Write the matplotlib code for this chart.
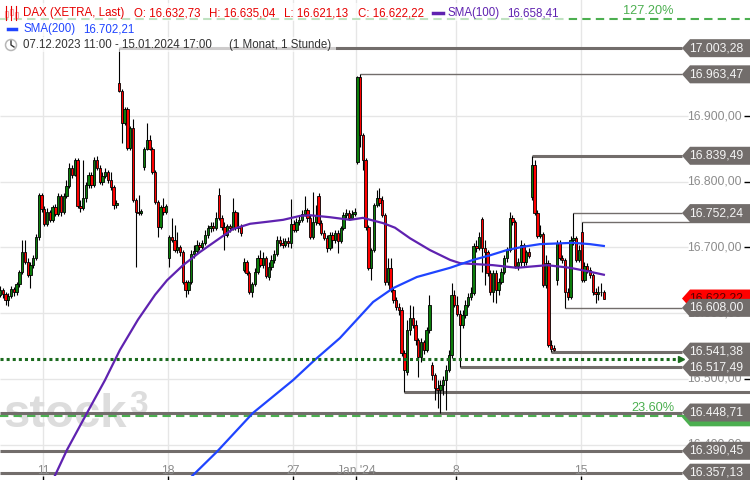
import numpy as np
import matplotlib.pyplot as plt
from matplotlib.patches import Polygon, Rectangle, Ellipse
from matplotlib.lines import Line2D
from matplotlib.transforms import blended_transform_factory

plt.rcParams['font.family'] = ['Liberation Sans', 'DejaVu Sans']

W, H = 750, 480
PX = 2.77                      # candle spacing in pixels
Y_TOP, Y_BOT = 17076.6, 16352.1

# DAX (XETRA) hourly candles, 07.12.2023 11:00 .. 15.01.2024 17:00
opens = [
    16628, 16635, 16629, 16620, 16626, 16637, 16632,
    16644, 16663, 16693, 16678, 16658, 16673, 16684, 16716, 16780,
    16758, 16736, 16754, 16742, 16761, 16751, 16778, 16754, 16778,
    16794, 16821, 16810, 16833, 16763, 16760, 16775, 16795, 16810,
    16795, 16833, 16821, 16800, 16809, 16815, 16803, 16792, 16765,
    16950, 16938, 16889, 16911, 16851, 16882, 16772, 16754, 16752,
    16822, 16850, 16864, 16850, 16815, 16769, 16731, 16761, 16754,
    16684, 16716, 16711, 16696, 16701, 16693, 16647, 16635, 16647,
    16690, 16695, 16704, 16701, 16707, 16719, 16730, 16733, 16730,
    16780, 16745, 16731, 16719, 16733, 16730, 16754, 16730, 16733,
    16666, 16678, 16661, 16632, 16644, 16663, 16684, 16673, 16684,
    16655, 16670, 16681, 16690, 16711, 16707, 16704, 16710, 16707,
    16736, 16727, 16739, 16742, 16751, 16757, 16745, 16716, 16739,
    16778, 16737, 16722, 16714, 16699, 16719, 16711, 16722, 16710,
    16730, 16749, 16752, 16745, 16751,
    16830, 16959, 16871, 16833, 16731, 16669, 16696, 16765, 16775,
    16772, 16749, 16647, 16669, 16635, 16620, 16609, 16605, 16539,
    16510, 16574, 16593, 16582, 16559, 16533, 16556, 16544, 16574,
    16521, 16506, 16486, 16483, 16491, 16498, 16513, 16536, 16628,
    16612, 16599, 16582, 16597, 16612, 16625, 16631, 16702, 16699,
    16743, 16699, 16693, 16661, 16632, 16661, 16635, 16647, 16663,
    16684, 16696, 16745, 16739, 16672, 16678, 16704, 16678, 16693,
    16777, 16825, 16752, 16717, 16720, 16643, 16676, 16551, 16547,
    16650, 16706, 16684, 16681, 16632, 16625, 16711, 16714, 16681,
    16723, 16650, 16672, 16666, 16658, 16632, 16629, 16632, 16632.73,
]
highs = [
    16641, 16638, 16632, 16631, 16641, 16640, 16647,
    16666, 16711, 16711, 16684, 16678, 16688, 16720, 16783, 16783,
    16763, 16760, 16757, 16765, 16766, 16783, 16781, 16783, 16803,
    16829, 16825, 16836, 16836, 16772, 16833, 16800, 16815, 16815,
    16838, 16839, 16825, 16815, 16821, 16818, 16815, 16795, 16772,
    17003.28, 16941, 16914, 16914, 16885, 16896, 16775, 16780, 16758,
    16853, 16889, 16871, 16853, 16818, 16772, 16765, 16775, 16766,
    16719, 16745, 16734, 16723, 16704, 16696, 16650, 16650, 16696,
    16704, 16711, 16708, 16711, 16727, 16734, 16739, 16739, 16754,
    16790, 16749, 16739, 16736, 16736, 16775, 16757, 16754, 16736,
    16684, 16681, 16664, 16647, 16669, 16688, 16696, 16693, 16687,
    16678, 16688, 16696, 16717, 16717, 16714, 16714, 16716, 16774,
    16742, 16745, 16748, 16757, 16778, 16760, 16749, 16784, 16765,
    16783, 16742, 16727, 16719, 16723, 16723, 16727, 16727, 16733,
    16754, 16758, 16757, 16757, 16760,
    16961, 16963.47, 16874, 16836, 16734, 16699, 16768, 16787, 16790,
    16778, 16752, 16684, 16684, 16638, 16625, 16615, 16609, 16544,
    16590, 16612, 16611, 16590, 16562, 16562, 16559, 16579, 16628,
    16526, 16509, 16498, 16498, 16504, 16521, 16544, 16646, 16635,
    16626, 16605, 16605, 16620, 16631, 16640, 16707, 16711, 16723,
    16746, 16711, 16696, 16666, 16666, 16666, 16653, 16669, 16688,
    16701, 16754, 16749, 16742, 16684, 16711, 16707, 16696, 16699,
    16839.49, 16833, 16757, 16734, 16723, 16688, 16681, 16559, 16551,
    16711, 16711, 16688, 16684, 16638, 16717, 16752.24, 16717, 16704,
    16739, 16678, 16676, 16670, 16661, 16638, 16641, 16646, 16635.04,
]
lows = [
    16625, 16623, 16612, 16611, 16623, 16626, 16628,
    16640, 16660, 16675, 16655, 16638, 16669, 16681, 16711, 16754,
    16733, 16733, 16739, 16739, 16748, 16748, 16748, 16751, 16775,
    16790, 16806, 16808, 16760, 16754, 16757, 16769, 16790, 16790,
    16792, 16818, 16797, 16795, 16806, 16798, 16787, 16758, 16760,
    16937, 16859, 16886, 16848, 16848, 16769, 16670, 16749, 16749,
    16818, 16848, 16848, 16812, 16766, 16716, 16728, 16749, 16751,
    16670, 16708, 16693, 16692, 16687, 16644, 16625, 16629, 16644,
    16684, 16690, 16696, 16698, 16704, 16714, 16723, 16725, 16727,
    16742, 16727, 16696, 16716, 16723, 16727, 16727, 16723, 16717,
    16663, 16658, 16629, 16625, 16641, 16660, 16670, 16669, 16653,
    16650, 16666, 16676, 16687, 16702, 16699, 16701, 16701, 16699,
    16723, 16723, 16734, 16739, 16748, 16739, 16713, 16713, 16734,
    16734, 16719, 16711, 16693, 16696, 16699, 16707, 16692, 16707,
    16727, 16745, 16742, 16743, 16748,
    16827, 16853, 16818, 16727, 16666, 16650, 16693, 16761, 16763,
    16746, 16643, 16643, 16632, 16615, 16605, 16597, 16535, 16480,
    16506, 16567, 16578, 16551, 16503, 16526, 16538, 16541, 16570,
    16498, 16468, 16456, 16448.71, 16475, 16453, 16510, 16532, 16609,
    16596, 16517.49, 16578, 16593, 16609, 16620, 16628, 16693, 16696,
    16663, 16643, 16657, 16628, 16617, 16615, 16628, 16644, 16660,
    16678, 16693, 16734, 16669, 16666, 16672, 16672, 16673, 16684,
    16772, 16749, 16714, 16714, 16640, 16638, 16548, 16541.38, 16542,
    16643, 16681, 16676, 16608.00, 16620, 16621, 16704, 16678, 16678,
    16647, 16647, 16661, 16653, 16628, 16615, 16620, 16626, 16621.13,
]
closes = [
    16635, 16629, 16620, 16626, 16637, 16632, 16644,
    16663, 16693, 16678, 16658, 16673, 16684, 16716, 16780, 16758,
    16736, 16754, 16742, 16761, 16751, 16778, 16754, 16778, 16794,
    16821, 16810, 16833, 16763, 16760, 16775, 16795, 16810, 16795,
    16833, 16821, 16800, 16809, 16815, 16803, 16792, 16765, 16768,
    16938, 16889, 16911, 16851, 16882, 16772, 16754, 16752, 16755,
    16850, 16864, 16850, 16815, 16769, 16731, 16761, 16754, 16763,
    16716, 16711, 16696, 16701, 16693, 16647, 16635, 16647, 16690,
    16695, 16704, 16701, 16707, 16719, 16730, 16733, 16730, 16745,
    16745, 16731, 16719, 16733, 16730, 16754, 16730, 16733, 16722,
    16678, 16661, 16632, 16644, 16663, 16684, 16673, 16684, 16657,
    16670, 16681, 16690, 16711, 16707, 16704, 16710, 16707, 16736,
    16727, 16739, 16742, 16751, 16757, 16745, 16716, 16739, 16749,
    16737, 16722, 16714, 16699, 16719, 16711, 16722, 16710, 16730,
    16749, 16752, 16745, 16751, 16754,
    16959, 16871, 16833, 16731, 16669, 16696, 16765, 16775, 16768,
    16749, 16647, 16669, 16635, 16620, 16609, 16605, 16539, 16513,
    16574, 16593, 16582, 16559, 16533, 16556, 16544, 16574, 16612,
    16506, 16486, 16483, 16491, 16498, 16513, 16536, 16628, 16612,
    16599, 16582, 16597, 16612, 16625, 16631, 16702, 16699, 16716,
    16699, 16693, 16661, 16632, 16661, 16635, 16647, 16663, 16684,
    16696, 16745, 16739, 16672, 16678, 16704, 16678, 16693, 16687,
    16825, 16752, 16717, 16720, 16643, 16676, 16551, 16545, 16544,
    16706, 16684, 16681, 16632, 16625, 16711, 16714, 16681, 16696,
    16650, 16672, 16666, 16658, 16632, 16629, 16632, 16632.73, 16622.22,
]

# moving averages, read at candle positions
sma100_idx = [17.7, 19.1, 24.2, 31.4, 37.9, 43.3, 49.8, 56.0, 60.3, 66.1, 72.2,
              78.3, 84.1, 90.3, 96.4, 102.2, 108.3, 111.9, 119.1, 126.4, 131.0,
              138.3, 142.6, 148.0, 155.2, 162.5, 166.1, 178.0, 186.6, 197.5,
              205.8, 213.0, 218]
sma100_val = [16331, 16346, 16392, 16448, 16498, 16544, 16590, 16628, 16650, 16673,
              16693, 16711, 16728, 16736, 16739, 16742, 16748, 16749, 16746, 16742,
              16745, 16737, 16730, 16714, 16696, 16681, 16676, 16673, 16669, 16673,
              16669, 16663, 16658.41]
sma200_idx = [66.8, 67.9, 78.3, 91.3, 105.8, 113.7, 122.7, 134.7, 141.9, 150.5, 162.5,
              170.8, 176.9, 183.0, 188.8, 194.9, 206.9, 213.0, 218]
sma200_val = [16331, 16346, 16389, 16448, 16498, 16529, 16562, 16617, 16638, 16655,
              16669, 16681, 16688, 16696, 16701, 16705, 16707, 16705, 16702.21]

# support / resistance levels (value, candle where it starts)
level_values = [17003.28, 16963.47, 16839.49, 16752.24, 16608.00,
                16541.38, 16517.49, 16448.71, 16390.45, 16357.13]
level_from = [43, 130, 192, 207, 204, 199, 166, 0, 0, 0]
extra_values = [16738.70, 16479.90]
extra_from = [210, 146]
fib_values = [17047.6, 16443.4]
fib_labels = ["127.20%", "23.60%"]
dotted_value = 16530.2
last_price = 16622.22

grid_values = [16400, 16500, 16600, 16700, 16800, 16900]
day_idx = [16, 61, 106, 129, 165, 210]
day_labels = ["11", "18", "27", "Jan '24", "8", "15"]

thin_levels = {16963.47, 16752.24, 16608.00, 16738.70}

GREY = '#726d6b'
LBL = '#8c8c8c'
FS = 8.7
HFS = 8.3


def de(v):
    s = f"{v:,.2f}"
    return s.replace(',', 'X').replace('.', ',').replace('X', '.')


fig = plt.figure(figsize=(W / 100, H / 100), dpi=100)
ax = fig.add_axes([0, 4 / H, 1, 476 / H])
ax.set_xlim(0, W / PX)
ax.set_ylim(Y_BOT, Y_TOP)
for s in ax.spines.values():
    s.set_visible(False)
trans = blended_transform_factory(ax.transAxes, ax.transData)
tip = 682 / PX            # where tags start, in candle units
unit_px = (Y_TOP - Y_BOT) / 476

# grid
ax.hlines(grid_values, 0, 688 / PX, color='#e6e6e6', lw=1, zorder=1)
for i in day_idx:
    ax.axvline(i - 0.3, color='#e6e6e6', lw=1, zorder=1)

ax.set_xticks([i - 0.3 for i in day_idx])
ax.set_xticklabels([])
ax.tick_params(axis='x', length=3, width=1, color='black', direction='out')
ax.yaxis.tick_right()
ax.set_yticks(grid_values)
ax.set_yticklabels([])
ax.tick_params(axis='y', length=4, width=1, color='black', direction='in')

for i, lab in zip(day_idx, day_labels):
    ax.text(i - 0.3, Y_BOT + 2 * unit_px, lab, ha='center', va='baseline',
            color=LBL, fontsize=FS, zorder=6)
for v in grid_values:
    ax.text(742 / W, v, de(v), transform=trans, ha='right', va='center',
            color=LBL, fontsize=FS, zorder=6)

# watermark
ax.text(3 / W, 1 - 427 / H, 'stock', transform=fig.transFigure, fontsize=34,
        fontweight='bold', color='#dddddd', va='baseline', zorder=1.5)
ax.text(129 / W, 1 - 414 / H, '3', transform=fig.transFigure, fontsize=24,
        fontweight='bold', color='#dddddd', va='baseline', zorder=1.5)

# levels
for v, f in zip(level_values, level_from):
    lw = 1.0 if v in thin_levels else 2.2
    ax.hlines(v, f, tip, color=GREY, lw=lw, zorder=2)
for v, f in zip(extra_values, extra_from):
    lw = 1.0 if v in thin_levels else 2.2
    ax.hlines(v, f, W / PX, color=GREY, lw=lw, zorder=2)

for v, lab in zip(fib_values, fib_labels):
    ax.hlines(v, 0, W / PX, color='#4caf50', lw=1.5, linestyles=(0, (4, 2.5)), zorder=2.5)
    ax.text(674 / W, v + 2 * unit_px, lab, transform=trans, ha='right', va='bottom',
            color='#4caf50', fontsize=FS + 0.5, zorder=6)

# candles
x = np.arange(len(closes))
o = np.array(opens)
c = np.array(closes)
ax.vlines(x, lows, highs, color='black', lw=0.8, zorder=3)
up = c >= o
bottom = np.minimum(o, c)
height = np.maximum(np.abs(c - o), 0.8)
ax.bar(x, height, bottom=bottom, width=0.85,
       color=np.where(up, '#0b7d0b', '#ff0000'), edgecolor='black', linewidth=0.6, zorder=3.1)

# moving averages
ax.plot(sma100_idx, sma100_val, color='#5f22b0', lw=1.6, zorder=4)
ax.plot(sma200_idx, sma200_val, color='#1f44ff', lw=1.6, zorder=4)

ax.hlines(dotted_value, 0, 680 / PX, color='#1c6b1f', lw=2.2,
          linestyles=(0, (1, 1)), zorder=4.5)
ax.plot([681 / PX], [dotted_value], marker='>', ms=5, color='#1c6b1f', zorder=4.5)


def tag(v, text, fc, tc, z):
    h = 9 * unit_px
    pts = [(682 / W, v), (690 / W, v + h), (1, v + h), (1, v - h), (690 / W, v - h)]
    ax.add_patch(Polygon(pts, closed=True, transform=trans, fc=fc, ec='none',
                         zorder=z, clip_on=False))
    if text:
        ax.text(716.5 / W, v, text, transform=trans, ha='center', va='center',
                color=tc, fontsize=FS, zorder=z + 0.05)


tag(last_price, de(last_price), '#ff0000', '#5a0000', 7)
tag(fib_values[1] - 2, '', '#4caf50', 'white', 7)
for k, v in enumerate(level_values):
    tag(v, de(v), GREY, '#f4f4f4', 7.2 + 0.1 * k)

# header
def fx(xp):
    return xp / W


def fy(yp):
    return 1 - yp / H


for (x0, y0, x1, y1) in [(0, 3, 565, 21), (0, 21, 140, 36), (0, 37, 336, 52)]:
    fig.patches.append(Rectangle((fx(x0), fy(y1)), fx(x1 - x0), (y1 - y0) / H,
                                 transform=fig.transFigure, fc='white', ec='none',
                                 alpha=0.65, zorder=1))

RED = '#e60000'
PURPLE = '#5f22b0'
BLUE = '#1f44ff'
header = [
    (23, 13, 'DAX (XETRA, Last)', RED),
    (134, 13, 'O: ' + de(opens[-1]), RED),
    (209, 13, 'H: ' + de(highs[-1]), RED),
    (284, 13, 'L: ' + de(lows[-1]), RED),
    (358, 13, 'C: ' + de(closes[-1]), RED),
    (447, 13, 'SMA(100)', PURPLE),
    (507, 13, de(sma100_val[-1]), PURPLE),
    (23, 29, 'SMA(200)', BLUE),
    (83, 29, de(sma200_val[-1]), BLUE),
    (23, 45, '07.12.2023 11:00 - 15.01.2024 17:00', '#333333'),
    (229, 45, '(1 Monat, 1 Stunde)', '#333333'),
]
for xp, yp, s, col in header:
    fig.text(fx(xp), fy(yp), s, color=col, fontsize=HFS, va='center', ha='left', zorder=3)

# small icons
fig.add_artist(Line2D([fx(433), fx(443)], [fy(13), fy(13)], color=PURPLE, lw=2.5))
fig.add_artist(Line2D([fx(8), fx(16)], [fy(29), fy(29)], color=BLUE, lw=2.5))
for xc, b0, b1 in [(6, 11, 17), (11, 9, 15), (16, 12, 18)]:
    fig.add_artist(Line2D([fx(xc), fx(xc)], [fy(6), fy(20)], color=RED, lw=0.8))
    fig.add_artist(Rectangle((fx(xc - 1.5), fy(b1)), fx(3), (b1 - b0) / H,
                             transform=fig.transFigure, fc='white', ec=RED, lw=0.8))
fig.add_artist(Ellipse((fx(11), fy(45)), fx(11), 11 / H, transform=fig.transFigure,
                       fc='none', ec='#333333', lw=1.1))
fig.add_artist(Line2D([fx(11), fx(11), fx(14)], [fy(41), fy(45), fy(47)], color='#333333', lw=1))

fig.savefig('out.png', dpi=100)
